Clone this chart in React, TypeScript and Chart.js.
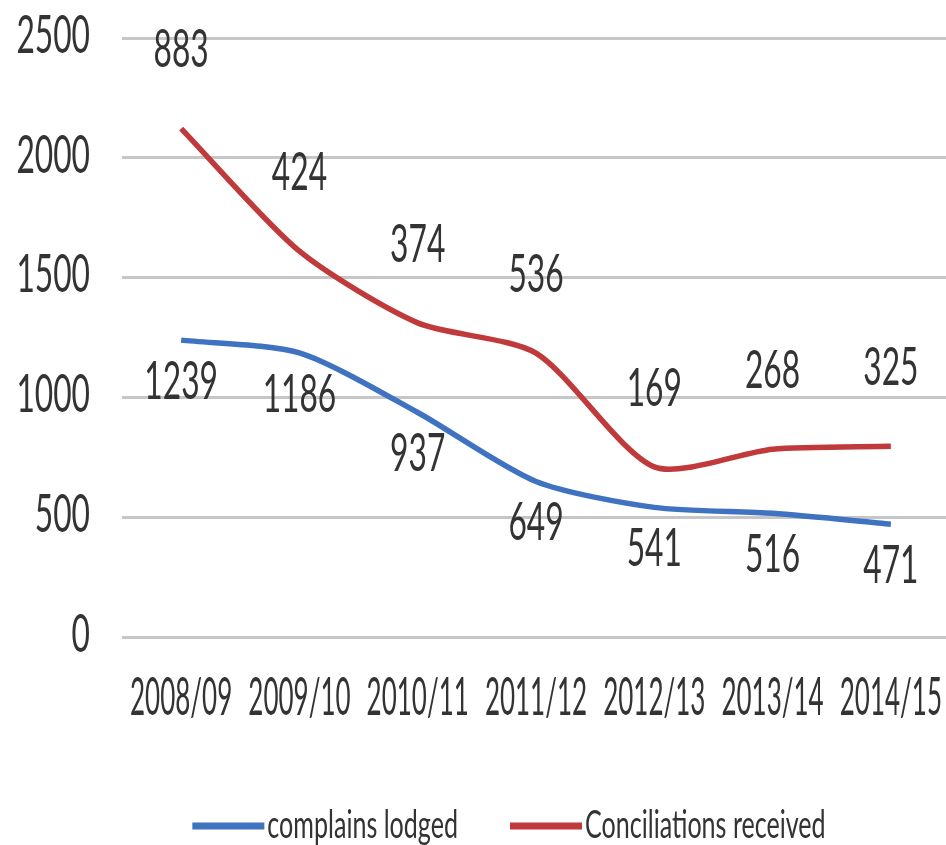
import { useEffect, useRef } from 'react';
import { Chart, registerables } from 'chart.js';

Chart.register(...registerables);

// Financial years shown on the category axis
const categories = ['2008/09', '2009/10', '2010/11', '2011/12', '2012/13', '2013/14', '2014/15'];

// Series values (the second series is stacked on top of the first)
const complainsLodged = [1239, 1186, 937, 649, 541, 516, 471];
const conciliationsReceived = [883, 424, 374, 536, 169, 268, 325];

const seriesNames = ['complains lodged', 'Conciliations received'];
const seriesColors = ['#3f72c0', '#c0393b'];

// Value axis range
const yMin = 0;
const yMax = 2500;
const yStep = 500;

const FONT = 'Lato, "Liberation Sans", sans-serif';
const TEXT_COLOR = '#333333';

function drawNarrowText(
  ctx: CanvasRenderingContext2D,
  text: string,
  x: number,
  y: number,
  align: CanvasTextAlign,
  size: number,
  scaleX: number,
  color = TEXT_COLOR,
) {
  ctx.save();
  ctx.font = `${size}px ${FONT}`;
  ctx.fillStyle = color;
  ctx.textAlign = align;
  ctx.textBaseline = 'middle';
  ctx.translate(x, y);
  ctx.scale(scaleX, 1);
  ctx.fillText(text, 0, 0);
  ctx.restore();
}

function narrowWidth(ctx: CanvasRenderingContext2D, text: string, size: number, scaleX: number) {
  ctx.save();
  ctx.font = `${size}px ${FONT}`;
  const w = ctx.measureText(text).width * scaleX;
  ctx.restore();
  return w;
}

// Draws axis labels, value labels and the legend with condensed lettering
const narrowTextPlugin = {
  id: 'narrowText',
  afterDatasetsDraw(chart: Chart) {
    const ctx = chart.ctx;
    const xScale = chart.scales.x;
    const yScale = chart.scales.y;

    // value axis labels
    yScale.ticks.forEach((t) => {
      drawNarrowText(ctx, String(t.value), 90, yScale.getPixelForValue(t.value) - 2, 'right', 52, 0.61);
    });

    // category labels
    (chart.data.labels as string[]).forEach((label, i) => {
      drawNarrowText(ctx, label, xScale.getPixelForValue(i), 698, 'center', 52, 0.5);
    });

    // value labels: first series below its line, second series above its stacked line
    chart.data.datasets.forEach((ds, di) => {
      const meta = chart.getDatasetMeta(di);
      (ds.data as number[]).forEach((v, i) => {
        const pt = meta.data[i];
        const y = di === 0 ? pt.y + 42 : pt.y - 78;
        drawNarrowText(ctx, String(v), pt.x, y, 'center', 52, 0.61);
      });
    });

    // legend
    const legendY = 826;
    const sampleW = 72;
    const gap = 3;
    const itemGap = 52;
    const textSize = 38;
    const textScale = 0.66;
    const items = chart.data.datasets.map((ds) => ({
      label: ds.label as string,
      color: ds.borderColor as string,
      w: narrowWidth(ctx, ds.label as string, textSize, textScale),
    }));
    const total = items.reduce((s, it) => s + sampleW + gap + it.w, 0) + itemGap * (items.length - 1);
    let x = 509 - total / 2;
    items.forEach((it) => {
      ctx.save();
      ctx.strokeStyle = it.color;
      ctx.lineWidth = 7;
      ctx.beginPath();
      ctx.moveTo(x, legendY);
      ctx.lineTo(x + sampleW, legendY);
      ctx.stroke();
      ctx.restore();
      x += sampleW + gap;
      drawNarrowText(ctx, it.label, x, legendY, 'left', textSize, textScale);
      x += it.w + itemGap;
    });
  },
};

export default function App() {
  const canvasRef = useRef<HTMLCanvasElement>(null);

  useEffect(() => {
    document.body.style.margin = '0';
    const canvas = canvasRef.current;
    if (!canvas) return;

    const chart = new Chart(canvas, {
      type: 'line',
      data: {
        labels: categories,
        datasets: [
          {
            label: seriesNames[0],
            data: complainsLodged,
            borderColor: seriesColors[0],
            backgroundColor: seriesColors[0],
            borderWidth: 5.5,
            pointRadius: 0,
            tension: 0.25,
            fill: false,
          },
          {
            label: seriesNames[1],
            data: conciliationsReceived,
            borderColor: seriesColors[1],
            backgroundColor: seriesColors[1],
            borderWidth: 5.5,
            pointRadius: 0,
            tension: 0.25,
            fill: false,
          },
        ],
      },
      options: {
        responsive: false,
        animation: false,
        layout: { padding: { left: 122, right: 2, top: 38, bottom: 200 } },
        plugins: {
          legend: { display: false },
          tooltip: { enabled: false },
        },
        scales: {
          x: {
            offset: true,
            grid: { display: false },
            border: { display: false },
            ticks: { display: false },
          },
          y: {
            stacked: true,
            min: yMin,
            max: yMax,
            ticks: { stepSize: yStep, display: false },
            grid: { color: '#c6c6c6', lineWidth: 3, drawTicks: false },
            border: { display: false },
          },
        },
      },
      plugins: [narrowTextPlugin],
    });

    return () => chart.destroy();
  }, []);

  return (
    <div style={{ width: 946, height: 845, overflow: 'hidden', background: '#ffffff' }}>
      <canvas ref={canvasRef} width={952} height={845} style={{ display: 'block' }} />
    </div>
  );
}
